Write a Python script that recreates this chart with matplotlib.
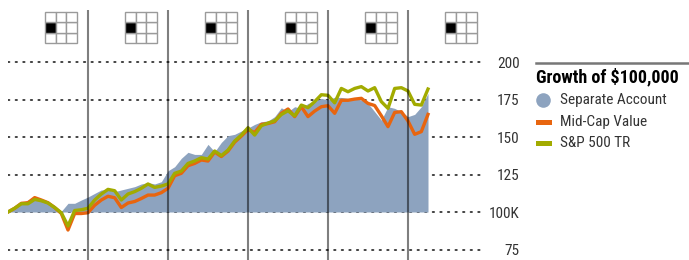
import matplotlib
matplotlib.use("Agg")
import matplotlib.pyplot as plt
import matplotlib.transforms as mtransforms
from matplotlib import font_manager
from matplotlib.patches import Rectangle
import numpy as np

# ---------------- data (monthly growth of $100,000, in thousands) ----------------
separate_account = [
    100.0, 104.0, 105.8, 108.0, 109.0, 107.0, 105.8, 103.6, 100.5, 105.8, 105.8, 108.0,
    110.0, 112.4, 114.7, 114.7, 113.6, 114.7, 115.8, 116.9, 118.7, 119.6, 118.7, 120.2,
    127.5, 130.2, 135.8, 139.8, 138.4, 138.4, 145.1, 140.2, 146.4, 150.9, 151.8, 154.0,
    156.0, 158.4, 160.2, 160.7, 163.6, 169.5, 166.9, 170.2, 169.1, 172.4, 173.6, 175.8,
    174.7, 176.5, 176.4, 175.8, 175.8, 174.7, 172.4, 166.9, 161.3, 170.2, 169.1, 166.9,
    163.6, 165.1, 170.2, 179.1,
]
mid_cap_value = [
    100.0, 102.5, 105.8, 106.2, 109.6, 108.0, 106.2, 103.0, 99.0, 88.0, 99.0, 99.0,
    99.5, 104.5, 108.0, 110.5, 109.5, 103.0, 106.0, 107.0, 109.0, 111.3, 111.3, 112.9,
    115.8, 124.2, 125.8, 130.9, 132.4, 134.7, 134.0, 140.0, 137.0, 140.6, 146.6, 150.6,
    155.0, 153.0, 158.4, 159.0, 160.2, 165.8, 168.7, 163.6, 170.2, 163.6, 167.3, 170.2,
    170.9, 165.8, 174.5, 174.5, 175.3, 175.8, 172.4, 171.0, 164.2, 156.9, 166.4, 166.9,
    160.7, 151.8, 153.6, 165.1,
]
sp500_tr = [
    100.0, 102.5, 105.5, 105.5, 108.4, 107.5, 106.0, 103.0, 99.5, 90.7, 101.0, 101.5,
    102.5, 108.0, 112.0, 115.1, 114.2, 108.0, 112.0, 113.6, 115.8, 118.7, 116.4, 117.3,
    118.7, 125.8, 127.3, 132.4, 134.0, 136.2, 135.3, 140.7, 137.6, 141.3, 147.3, 151.3,
    156.2, 151.3, 157.5, 159.3, 160.8, 165.0, 167.5, 164.1, 171.3, 169.6, 173.6, 178.2,
    177.8, 172.8, 182.4, 180.2, 182.4, 183.6, 180.7, 182.9, 173.6, 169.1, 182.4, 182.9,
    180.7, 171.8, 171.3, 182.0,
]
year_boundaries = [12, 24, 36, 48, 60]
style_box_starts = [0, 12, 24, 36, 48, 60]
y_ticks = [75, 100, 125, 150, 175, 200]
y_tick_labels = ["75", "100K", "125", "150", "175", "200"]
legend_title = "Growth of $100,000"
series_names = ["Separate Account", "Mid-Cap Value", "S&P 500 TR"]

# ---------------- style ----------------
c_area = "#8da3bf"
c_orange = "#e8650f"
c_green = "#a2ab00"

names = {f.name for f in font_manager.fontManager.ttflist}
fam = "Liberation Sans"
for cand in ["Liberation Sans Narrow", "Roboto Condensed", "Open Sans Condensed"]:
    if cand in names:
        fam = cand
        break
plt.rcParams["font.family"] = [fam, "DejaVu Sans"]

W, H = 689, 260
fig = plt.figure(figsize=(W / 100, H / 100), dpi=100)
ax = fig.add_axes([8 / W, 0, 476 / W, 250 / H])

months = np.arange(len(separate_account))
ax.set_xlim(0, 71.4)
ax.set_ylim(68, 234.7)

for v in y_ticks:
    ax.axhline(v, color="#333333", lw=1.3, dashes=(0.8, 3.4), dash_capstyle="round", zorder=1)

ax.fill_between(months, 100, separate_account, color=c_area, lw=0, zorder=2)
ax.plot(months, mid_cap_value, color=c_orange, lw=2.4, zorder=3, solid_joinstyle="round")
ax.plot(months, sp500_tr, color=c_green, lw=2.4, zorder=4, solid_joinstyle="round")

for b in year_boundaries:
    ax.axvline(b, color="black", alpha=0.5, lw=1.5, zorder=5)

# style boxes (3x3 grid, middle-left highlighted)
trans = mtransforms.blended_transform_factory(ax.transData, ax.transAxes)
bw = 4.8  # box width in months (approx 32 px)
bh = 31 / 250
for s in style_box_starts:
    x0 = s + 5.55
    y0 = 1 - (43 - 10) / 250
    cw, ch = bw / 3, bh / 3
    for i in range(3):
        for j in range(3):
            fc = "black" if (i == 0 and j == 1) else "white"
            ax.add_patch(Rectangle((x0 + i * cw, y0 + j * ch), cw, ch, transform=trans,
                                   facecolor=fc, edgecolor="#9a9a9a", lw=1.0, zorder=6,
                                   clip_on=False))

# axes cosmetics
for sp in ax.spines.values():
    sp.set_visible(False)
ax.set_xticks([])
ax.yaxis.tick_right()
ax.set_yticks(y_ticks)
ax.set_yticklabels(y_tick_labels)
ax.tick_params(axis="y", length=0, pad=25.5, labelsize=11, labelcolor="#333333")
for lab in ax.get_yticklabels():
    lab.set_horizontalalignment("right")

# legend (manual)
fig.add_artist(plt.Line2D([536 / W, 1.0], [1 - 62.5 / H, 1 - 62.5 / H], color="#777777", lw=1.8))
fig.text(536 / W, 1 - 77 / H, legend_title, fontsize=13, fontweight="bold", va="center",
         ha="left", color="black")
ys = [100, 122, 143]
fig.add_artist(plt.Line2D([543 / W], [1 - ys[0] / H], marker="o", markersize=10.5,
                          markerfacecolor=c_area, markeredgecolor="none", linestyle="none"))
fig.add_artist(Rectangle((536 / W, 1 - (ys[1] + 2.5) / H), 16 / W, 5 / H,
                         transform=fig.transFigure, facecolor=c_orange, edgecolor="none"))
fig.add_artist(Rectangle((536 / W, 1 - (ys[2] + 2.5) / H), 16 / W, 5 / H,
                         transform=fig.transFigure, facecolor=c_green, edgecolor="none"))
for name, y in zip(series_names, ys):
    fig.text(560 / W, 1 - y / H, name, fontsize=11, va="center", ha="left", color="#333333")

fig.savefig("out.png", dpi=100)
